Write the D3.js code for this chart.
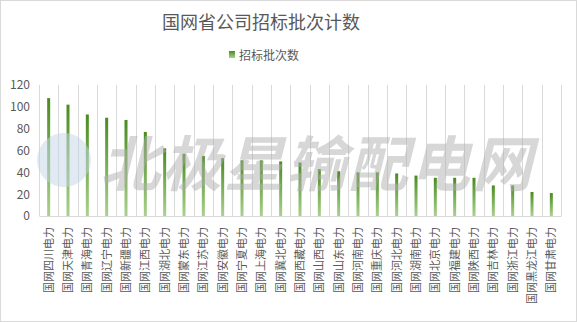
<!DOCTYPE html>
<html>
<head>
<meta charset="utf-8">
<script src="https://cdn.jsdelivr.net/npm/d3@7"></script>
<style>
  body { margin: 0; background: #fff; }
  #chart { width: 577px; height: 322px; }
  text { font-family: "Microsoft YaHei", "Noto Sans CJK SC", sans-serif; }
</style>
</head>
<body>
<div id="chart"></div>
<script>
// data
let categories = ["国网四川电力", "国网天津电力", "国网青海电力", "国网辽宁电力", "国网新疆电力",
    "国网江西电力", "国网湖北电力", "国网蒙东电力", "国网江苏电力", "国网安徽电力",
    "国网宁夏电力", "国网上海电力", "国网冀北电力", "国网西藏电力", "国网山西电力",
    "国网山东电力", "国网河南电力", "国网重庆电力", "国网河北电力", "国网湖南电力",
    "国网北京电力", "国网福建电力", "国网陕西电力", "国网吉林电力", "国网浙江电力",
    "国网黑龙江电力", "国网甘肃电力"];
let counts = [108, 102, 93, 90, 88, 77, 62, 57, 55, 53, 51, 51, 50, 49, 43,
    41, 40, 40, 39, 37, 35, 35, 35, 28, 28, 22, 21];
let yTicks = [0, 20, 40, 60, 80, 100, 120];

let margin = {top: 85, right: 16, bottom: 106, left: 39};
let W = 577, H = 322;
let width = W - margin.left - margin.right;
let height = H - margin.top - margin.bottom;

let svg = d3.select("#chart").append("svg")
    .attr("width", W)
    .attr("height", H);

// gradient for bars
let defs = svg.append("defs");
let grad = defs.append("linearGradient")
    .attr("id", "barGrad")
    .attr("x1", 0).attr("y1", 0).attr("x2", 0).attr("y2", 1);
grad.append("stop").attr("offset", "0%").attr("stop-color", "#4a8b1f");
grad.append("stop").attr("offset", "100%").attr("stop-color", "#a9d18e");

// border
svg.append("rect")
    .attr("x", 0.5).attr("y", 0.5)
    .attr("width", W - 1).attr("height", H - 1)
    .attr("fill", "#fff")
    .attr("stroke", "#d9d9d9");

// title
svg.append("text")
    .attr("x", 261).attr("y", 29)
    .attr("text-anchor", "middle")
    .attr("font-size", 18)
    .attr("fill", "#595959")
    .text("国网省公司招标批次计数");

// legend
svg.append("rect")
    .attr("x", 229).attr("y", 51)
    .attr("width", 6).attr("height", 7)
    .attr("fill", "url(#barGrad)");
svg.append("text")
    .attr("x", 239).attr("y", 60)
    .attr("font-size", 12)
    .attr("fill", "#595959")
    .text("招标批次数");

let g = svg.append("g")
    .attr("transform", "translate(" + margin.left + "," + margin.top + ")");

let x = d3.scaleBand()
    .domain(categories)
    .range([0, width]);

let y = d3.scaleLinear()
    .domain([0, 120])
    .range([height, 0]);

// vertical gridlines at category boundaries
let bounds = categories.map(function(d) { return x(d); }).concat([width]);
g.selectAll(".grid")
    .data(bounds)
    .enter().append("line")
    .attr("class", "grid")
    .attr("x1", function(d) { return Math.round(d) + 0.5; })
    .attr("x2", function(d) { return Math.round(d) + 0.5; })
    .attr("y1", 0)
    .attr("y2", height)
    .attr("stroke", "#d9d9d9");

// watermark
let wm = svg.append("g").attr("opacity", 0.5);
wm.append("circle")
    .attr("cx", 64).attr("cy", 160).attr("r", 27)
    .attr("fill", "#c5d6e8");
wm.append("text")
    .attr("x", 100).attr("y", 186)
    .attr("font-size", 60)
    .attr("font-weight", "bold")
    .attr("font-style", "italic")
    .attr("letter-spacing", 2)
    .attr("fill", "#b0b0b0")
    .text("北极星输配电网");

// bars
let barW = 3;
g.selectAll(".bar")
    .data(counts)
    .enter().append("rect")
    .attr("class", "bar")
    .attr("x", function(d, i) { return x(categories[i]) + x.bandwidth() / 2 - barW / 2; })
    .attr("y", function(d) { return y(d); })
    .attr("width", barW)
    .attr("height", function(d) { return height - y(d); })
    .attr("fill", "url(#barGrad)");

// x axis
let xAxis = d3.axisBottom(x).tickSize(0).tickPadding(9);
let xg = g.append("g")
    .attr("transform", "translate(0," + height + ")")
    .call(xAxis);
xg.select(".domain").attr("stroke", "#d9d9d9");
xg.selectAll("text")
    .attr("font-size", 11)
    .attr("fill", "#595959")
    .attr("transform", "rotate(-90)")
    .attr("text-anchor", "end")
    .attr("x", -11)
    .attr("y", 0)
    .attr("dy", "0.35em");

// y axis
let yAxis = d3.axisLeft(y).tickValues(yTicks).tickSize(0).tickPadding(9);
let yg = g.append("g").call(yAxis);
yg.select(".domain").remove();
yg.selectAll("text")
    .attr("font-size", 12)
    .attr("fill", "#595959");
</script>
</body>
</html>
